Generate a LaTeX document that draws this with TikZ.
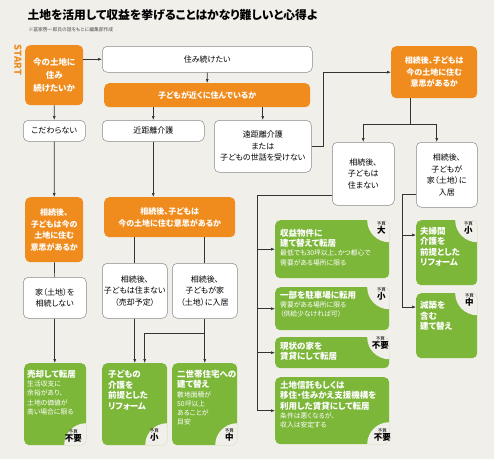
\documentclass[tikz,border=0pt]{standalone}
\usepackage{fontspec}
\setmainfont{Noto Sans CJK JP}[RawFeature=+palt]
\usetikzlibrary{arrows.meta,positioning,calc}
\definecolor{paper}{HTML}{F1EFEA}
\definecolor{ora}{HTML}{F08C1E}
\definecolor{grn}{HTML}{7DB73A}
\definecolor{edge}{HTML}{8A8A8A}
\tikzset{
  wh/.style 2 args={minimum width=#1pt, minimum height=#2pt},
  box/.style={rectangle, rounded corners=5pt, align=center, anchor=north west, inner sep=1pt, font=\fontsize{8}{11.5}\selectfont},
  wbox/.style={box, draw=edge, line width=0.5pt, fill=white},
  obox/.style={box, fill=ora, text=white, font=\bfseries\fontsize{8}{11.5}\selectfont},
  gne/.style={box, fill=grn, path picture={\fill[paper] (path picture bounding box.north east) circle (22pt);}},
  gse/.style={box, fill=grn, path picture={\fill[paper] (path picture bounding box.south east) circle (22pt);}},
  gtitle/.style={anchor=north west, inner sep=0pt, align=left, text=white, font=\bfseries\fontsize{8.5}{10.5}\selectfont},
  gsub/.style={anchor=north west, inner sep=0pt, align=left, text=white, font=\fontsize{6.8}{9.3}\selectfont},
  budget/.style={inner sep=0pt, align=center, font=\bfseries\fontsize{8.5}{8}\selectfont},
  arr/.style={-{Latex[length=4pt, width=3pt]}, line width=0.6pt, black!80},
  ln/.style={line width=0.6pt, black!80}
}
\newcommand{\yosan}[1]{{\mdseries\fontsize{4.5}{5}\selectfont 予算}\\#1}

\begin{document}
\begin{tikzpicture}[x=1pt, y=-1pt]
\fill[paper] (0,0) rectangle (494,459);
\useasboundingbox (0,0) rectangle (494,459);

\node[anchor=west, font=\bfseries\fontsize{11.8}{12}\selectfont] (title) at (24,15) {土地を活用して収益を挙げることはかなり難しいと心得よ};
\node[anchor=west, font=\fontsize{4.8}{5}\selectfont, text=black!70] (note) at (25,30) {※冨家啓一郎氏の話をもとに編集部作成};
\node[rotate=-90, text=ora, font=\bfseries\fontsize{9.5}{9}\selectfont] (start) at (18,60) {START};

\node[obox, wh={58}{60}, font=\bfseries\fontsize{8.5}{13}\selectfont] (q1) at (25,45) {今の土地に\\住み\\続けたいか};
\node[wbox, wh={210}{26}] (live) at (102,46) {住み続けたい};
\node[obox, wh={206}{24}] (near) at (104,83) {子どもが近くに住んでいるか};
\node[obox, wh={86}{52}] (heirR) at (391,46) {相続後、子どもは\\今の土地に住む\\意思があるか};
\node[wbox, wh={62}{21}] (any) at (23,120) {こだわらない};
\node[wbox, wh={102}{21}] (close) at (102,120) {近距離介護};
\node[wbox, wh={97}{52}] (far) at (214,120) {遠距離介護\\または\\子どもの世話を受けない};
\node[wbox, wh={62}{63}] (noR) at (332,142) {相続後、\\子どもは\\住まない};
\node[wbox, wh={61}{65}] (inR) at (416,142) {相続後、\\子どもが\\家（土地）に\\入居};
\node[obox, wh={58}{65}] (heirL) at (25,197) {相続後、\\子どもは今の\\土地に住む\\意思があるか};
\node[obox, wh={131}{40}] (heirM) at (104,197) {相続後、子どもは\\今の土地に住む意思があるか};
\node[wbox, wh={63}{41}] (keep) at (23,277) {家（土地）を\\相続しない};
\node[wbox, wh={65}{55}] (sale) at (102,263) {相続後、\\子どもは住まない\\（売却予定）};
\node[wbox, wh={65}{55}] (inM) at (172,263) {相続後、\\子どもが家\\（土地）に入居};

\node[gne, wh={114}{58}] (rev) at (275,220) {};
\node[gne, wh={114}{43}] (park) at (275,287) {};
\node[gne, wh={114}{31}] (rent) at (275,337) {};
\node[gse, wh={114}{67}] (trust) at (275,377) {};
\node[gne, wh={61}{65}] (couple) at (416,220) {};
\node[gne, wh={61}{65}] (shrink) at (416,293) {};
\node[gse, wh={62}{82}] (sell) at (24,363) {};
\node[gse, wh={65}{82}] (care) at (102,363) {};
\node[gse, wh={65}{82}] (twogen) at (172,363) {};

\node[gtitle] (revT) at ($(rev.north west)+(5,9)$) {収益物件に\\建て替えて転居};
\node[gsub, below=2pt of revT.south west, anchor=north west] (revS) {最低でも30坪以上、かつ都心で\\需要がある場所に限る};
\node[gtitle] (parkT) at ($(park.north west)+(5,4)$) {一部を駐車場に転用};
\node[gsub, below=2pt of parkT.south west, anchor=north west] (parkS) {需要がある場所に限る\\（供給少なければ可）};
\node[gtitle] (rentT) at ($(rent.north west)+(5,5)$) {現状の家を\\賃貸にして転居};
\node[gtitle] (trustT) at ($(trust.north west)+(5,4)$) {土地信託もしくは\\移住・住みかえ支援機構を\\利用した賃貸にして転居};
\node[gsub, below=2pt of trustT.south west, anchor=north west] (trustS) {条件は悪くなるが、\\収入は安定する};
\node[gtitle] (coupleT) at ($(couple.north west)+(4,7)$) {夫婦間\\介護を\\前提とした\\リフォーム};
\node[gtitle] (shrinkT) at ($(shrink.north west)+(4,8)$) {減築を\\含む\\建て替え};
\node[gtitle] (sellT) at ($(sell.north west)+(3,7)$) {売却して転居};
\node[gsub, below=2pt of sellT.south west, anchor=north west] (sellS) {生活収支に\\余裕があり、\\土地の価値が\\高い場合に限る};
\node[gtitle] (careT) at ($(care.north west)+(6,7)$) {子どもの\\介護を\\前提とした\\リフォーム};
\node[gtitle] (twogenT) at ($(twogen.north west)+(5,7)$) {二世帯住宅への\\建て替え};
\node[gsub, below=2pt of twogenT.south west, anchor=north west] (twogenS) {敷地面積が\\50坪以上\\あることが\\目安};

\node[budget] (revB) at ($(rev.north east)+(-8,8)$) {\yosan{大}};
\node[budget] (parkB) at ($(park.north east)+(-8,7)$) {\yosan{小}};
\node[budget] (rentB) at ($(rent.north east)+(-9,6)$) {\yosan{不要}};
\node[budget] (trustB) at ($(trust.south east)+(-7,-9)$) {\yosan{不要}};
\node[budget] (coupleB) at ($(couple.north east)+(-9,8)$) {\yosan{小}};
\node[budget] (shrinkB) at ($(shrink.north east)+(-8,7)$) {\yosan{中}};
\node[budget] (sellB) at ($(sell.south east)+(-13,-9)$) {\yosan{不要}};
\node[budget] (careB) at ($(care.south east)+(-13,-10)$) {\yosan{小}};
\node[budget] (twogenB) at ($(twogen.south east)+(-8,-10)$) {\yosan{中}};

\draw[arr] (q1.east |- live.west) -- (live.west);
\draw[arr] (live) -- (near);
\draw[arr] (near.south -| close.north) -- (close.north);
\draw[arr] (near.south -| far.north) -- (far.north);
\draw[arr] (far.east) -- ++(12,0) |- (heirR.west);
\coordinate (fork) at (410,124);
\draw[ln] (heirR.south -| fork) -- (fork);
\draw[arr] (fork) -| (noR.north);
\draw[arr] (fork) -| ($(inR.north)+(-10,0)$);

\draw[arr] (q1) -- (any);
\draw[arr] (any) -- (heirL);
\draw[arr] (close.south) -- (close.south |- heirM.north);
\draw[ln] (heirL) -- (keep);
\draw[ln] (heirM.south -| sale.north) -- (sale.north);
\draw[ln] (heirM.south -| inM.north) -- (inM.north);
\draw[arr] (keep.south) -- (keep.south |- sell.north);
\draw[arr] (sale.south) -- (sale.south |- care.north);
\draw[arr] (inM.south) -- (inM.south |- twogen.north);
\draw[arr] (inM.south |- 0,333) -| ($(care.north)+(10,0)$);

\coordinate (busL) at (257,195);
\draw[ln] (noR.west |- busL) -- (busL) -- (busL |- trust.west);
\draw[arr] (busL |- rev.west) -- (rev.west);
\draw[arr] (busL |- park.west) -- (park.west);
\draw[arr] (busL |- rent.west) -- (rent.west);
\draw[arr] (busL |- trust.west) -- (trust.west);

\coordinate (busR) at (402,194);
\draw[ln] (inR.west |- busR) -- (busR) -- ($(busR |- shrink.north)+(0,14)$);
\draw[arr] ($(busR |- couple.north)+(0,15)$) -- ($(couple.north west)+(0,15)$);
\draw[arr] ($(busR |- shrink.north)+(0,14)$) -- ($(shrink.north west)+(0,14)$);
\end{tikzpicture}
\end{document}
